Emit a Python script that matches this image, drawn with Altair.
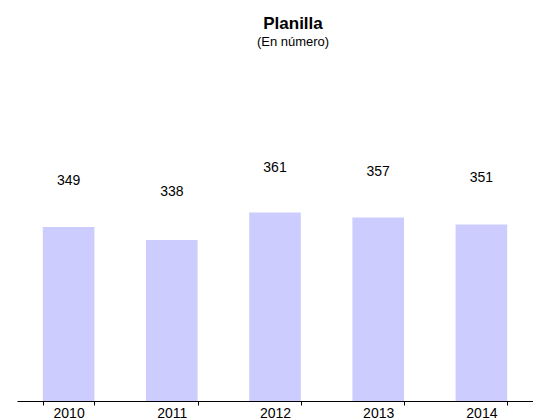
import altair as alt
import pandas as pd

years = ["2010", "2011", "2012", "2013", "2014"]
values = [349, 338, 361, 357, 351]

bar_domain = [203, 489]
label_domain = [138.2, 464.2]

df = pd.DataFrame({"year": years, "value": values})

FONT = "Liberation Sans"

x_enc = alt.X(
    "year:N",
    sort=years,
    title=None,
    scale=alt.Scale(paddingInner=0.5, paddingOuter=0.25),
    axis=alt.Axis(
        labelAngle=0,
        labelFont=FONT,
        labelFontSize=14,
        labelColor="#000000",
        labelPadding=1,
        tickBand="extent",
        tickSize=4,
        tickColor="#000000",
        domainColor="#000000",
        domainWidth=1,
        grid=False,
    ),
)

bars = alt.Chart(df).mark_bar(color="#CCCCFF").encode(
    x=x_enc,
    y=alt.Y("value:Q", axis=None,
            scale=alt.Scale(domain=bar_domain, zero=False, nice=False)),
    y2=alt.datum(bar_domain[0]),
)

labels = alt.Chart(df).mark_text(
    font=FONT, fontSize=14, color="#000000", baseline="middle"
).encode(
    x=alt.X("year:N", sort=years),
    y=alt.Y("value:Q", axis=None,
            scale=alt.Scale(domain=label_domain, zero=False, nice=False)),
    text=alt.Text("value:Q"),
)

chart = alt.layer(bars, labels).resolve_scale(y="independent").properties(
    width=516,
    height=341,
    background="#ffffff",
    autosize=alt.AutoSizeParams(type="none"),
    padding={"left": 9, "top": 52, "right": 0, "bottom": 18},
    title=alt.TitleParams(
        text="Planilla",
        subtitle="(En número)",
        font=FONT,
        fontSize=17,
        fontWeight="bold",
        color="#000000",
        subtitleFont=FONT,
        subtitleFontSize=13,
        subtitleColor="#000000",
        subtitlePadding=3,
        anchor="middle",
        dx=18,
        offset=10,
    ),
).configure_view(stroke=None)

chart.save("out.html", embed_options={"renderer": "svg", "actions": False})
